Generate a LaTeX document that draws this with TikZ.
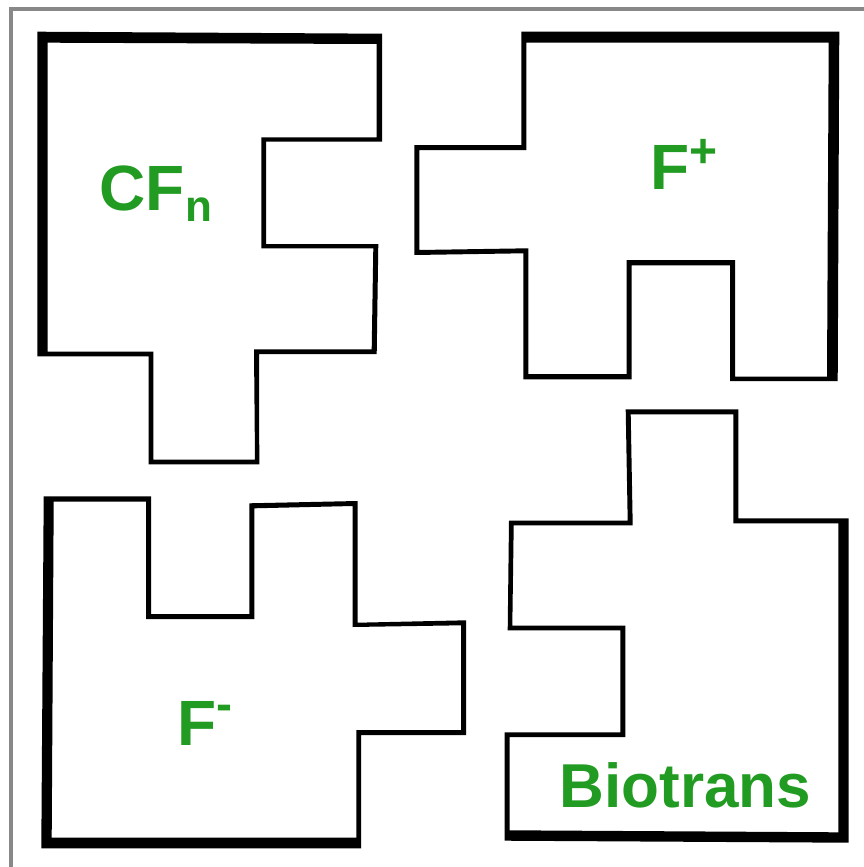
\documentclass[tikz,border=0pt]{standalone}
\usepackage{fontspec}
\setmainfont{Liberation Sans}
\definecolor{lblgreen}{RGB}{33,155,33}
\definecolor{framegray}{RGB}{136,136,136}
\begin{document}
\begin{tikzpicture}[x=1pt,y=-1pt,
  piece/.style={fill=black,even odd rule},
  lbl/.style={text=lblgreen,font=\fontsize{64}{64}\selectfont\bfseries,inner sep=0pt,anchor=base west}]
\useasboundingbox (0,0) rectangle (864,867);
\fill[white] (0,0) rectangle (864,867);
\draw[framegray, line width=4] (11,867) -- (11,9.5) -- (864,9.5);
% piece 1 (CFn)
\fill[piece]
 (37.3,31.7) -- (382,33.7) -- (382,141.7) -- (266,141.7) -- (266,244) -- (378.3,244) -- (376.7,354) -- (259,354) -- (259.3,464.3) -- (148.7,464.3) -- (148.7,356.3) -- (37.3,356.3) -- cycle
 (47.7,42.7) -- (376.7,44) -- (376.7,137.3) -- (261.3,137.3) -- (261.3,248.3) -- (373.3,248.3) -- (371.7,349.3) -- (254,349.3) -- (255,459.7) -- (153.3,459.7) -- (153.3,351.7) -- (47.7,351.7) -- cycle;
% piece 2 (F+)
\fill[piece]
 (521.3,31.7) -- (839.3,31.7) -- (837.7,381) -- (730,381) -- (730,265.3) -- (631.7,265.3) -- (631.7,379.3) -- (523.3,379.3) -- (523.3,253.3) -- (414.3,255) -- (414.3,145) -- (521.3,145) -- cycle
 (526.3,42.7) -- (828.7,42.7) -- (827,376.7) -- (735,376.7) -- (735,260) -- (626.7,260) -- (626.7,374) -- (528.3,374) -- (528.3,248.3) -- (419.3,250) -- (419.3,150) -- (526.3,150) -- cycle;
% piece 3 (F-)
\fill[piece]
 (43.7,496.3) -- (151,496.3) -- (151,614) -- (249.3,614) -- (249.3,503.3) -- (357.7,501) -- (357.7,622.7) -- (466,620.3) -- (466,735) -- (361,735) -- (361,848.3) -- (41.3,848.3) -- cycle
 (53.7,501.7) -- (146,501.7) -- (146,619) -- (254.3,619) -- (254.3,508.3) -- (352.7,506) -- (352.7,627) -- (461,625.3) -- (461,730) -- (356.3,730) -- (356.3,837.7) -- (51.7,837.7) -- cycle;
% piece 4 (Biotrans)
\fill[piece]
 (625.7,409.3) -- (738.3,409.3) -- (738.3,518.3) -- (848.7,518.3) -- (848.7,842.7) -- (504.7,840.7) -- (504.7,732.3) -- (620.3,732.3) -- (620.3,630.3) -- (507.7,630.3) -- (509,520.7) -- (627.7,520.7) -- cycle
 (630.7,414.3) -- (733.3,414.3) -- (733.3,523.3) -- (838.3,523.3) -- (838.3,832.3) -- (509.7,830.3) -- (509.7,737) -- (625.3,737) -- (625.3,625.7) -- (512.3,625.7) -- (513.7,525.3) -- (632.7,525.3) -- cycle;
% labels
\node[lbl] (cfn) at (99.5,210) {CF\raisebox{-11pt}{\fontsize{44}{44}\selectfont n}};
\node[lbl] (fplus) at (650,189.3) {F\raisebox{22pt}{\fontsize{48}{48}\selectfont +}};
\node[lbl] (fminus) at (177.5,745) {F\raisebox{25pt}{\fontsize{48}{48}\selectfont -}};
\node[lbl, font=\fontsize{62}{62}\selectfont\bfseries] (bio) at (559.5,807.3) {Biotrans};
\end{tikzpicture}
\end{document}
